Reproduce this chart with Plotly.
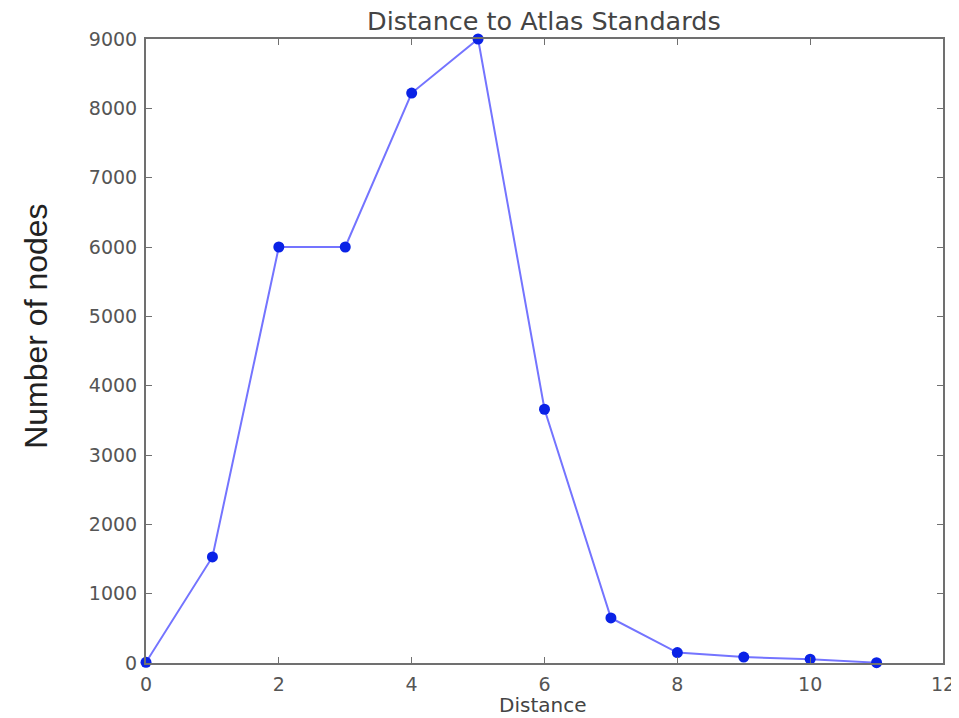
import plotly.graph_objects as go

distance = [0, 1, 2, 3, 4, 5, 6, 7, 8, 9, 10, 11]
nodes = [10, 1530, 6000, 6000, 8220, 9000, 3660, 650, 150, 85, 55, 5]
x_ticks = [0, 2, 4, 6, 8, 10, 12]
y_ticks = [0, 1000, 2000, 3000, 4000, 5000, 6000, 7000, 8000, 9000]

fig = go.Figure()
fig.add_trace(go.Scatter(
    x=distance, y=nodes, mode="lines",
    line=dict(color="#7474ff", width=2), cliponaxis=False, hoverinfo="skip"))
fig.add_trace(go.Scatter(
    x=distance, y=nodes, mode="markers",
    marker=dict(color="#0a22e6", size=11), cliponaxis=False))

axis_common = dict(
    showline=True, linecolor="#707070", linewidth=2, mirror="ticks",
    ticks="inside", ticklen=6, tickcolor="#707070", tickwidth=1,
    showgrid=False, zeroline=False,
    tickfont=dict(family="DejaVu Sans", size=19, color="#555555"),
)

W, H = 959, 718
L, T, PW, PH = 138, 31, 803, 624

fig.update_layout(
    width=W, height=H,
    paper_bgcolor="white", plot_bgcolor="white",
    margin=dict(l=L, r=W - L - PW, t=T, b=H - T - PH),
    showlegend=False,
    xaxis=dict(range=[0, 12], tickvals=x_ticks, ticklabelstandoff=3, **axis_common),
    yaxis=dict(range=[0, 9000], tickvals=y_ticks, ticklabelstandoff=3, **axis_common),
    annotations=[
        dict(text="Distance to Atlas Standards", xref="paper", yref="paper",
             x=(539 - L) / PW, y=1.0288, xanchor="center", yanchor="middle", showarrow=False,
             font=dict(family="DejaVu Sans", size=25.5, color="#444444")),
        dict(text="Distance", xref="paper", yref="paper",
             x=(537 - L) / PW, y=-0.0673, xanchor="center", yanchor="middle", showarrow=False,
             font=dict(family="DejaVu Sans", size=20, color="#444444")),
        dict(text="Number of nodes", xref="paper", yref="paper",
             x=-111 / PW, y=0.54, xanchor="center", yanchor="middle", showarrow=False,
             textangle=-90,
             font=dict(family="Liberation Sans", size=32, color="#222222")),
    ],
)

fig.write_html("out.html")
